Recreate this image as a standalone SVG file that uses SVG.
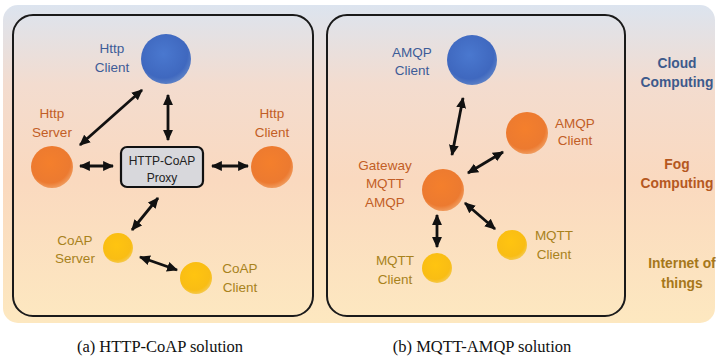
<svg xmlns="http://www.w3.org/2000/svg" width="717" height="359" viewBox="0 0 717 359">
<defs>
<linearGradient id="bg" x1="0" y1="0" x2="0" y2="1">
<stop offset="0" stop-color="#dce4ef"/>
<stop offset="0.25" stop-color="#f3dccf"/>
<stop offset="0.55" stop-color="#fad9bf"/>
<stop offset="1" stop-color="#fde8c0"/>
</linearGradient>
<radialGradient id="gBlue" cx="0.45" cy="0.4" r="0.6">
<stop offset="0" stop-color="#4a78cf"/>
<stop offset="0.8" stop-color="#3f68bf"/>
<stop offset="1" stop-color="#5a7fc6"/>
</radialGradient>
<radialGradient id="gOrange" cx="0.45" cy="0.4" r="0.6">
<stop offset="0" stop-color="#f47f2c"/>
<stop offset="0.8" stop-color="#ec7a30"/>
<stop offset="1" stop-color="#f09a5c"/>
</radialGradient>
<radialGradient id="gYellow" cx="0.45" cy="0.4" r="0.6">
<stop offset="0" stop-color="#ffc410"/>
<stop offset="0.8" stop-color="#f9bd14"/>
<stop offset="1" stop-color="#f5c84a"/>
</radialGradient>
<marker id="ah" viewBox="0 0 10 10" refX="9" refY="5" markerWidth="11" markerHeight="11" markerUnits="userSpaceOnUse" orient="auto-start-reverse">
<path d="M0,0.5 L10,5 L0,9.5 z" fill="#111"/>
</marker>
<style>
.panel{fill:none;stroke:#1a1a1a;stroke-width:2}
.lbl{font-family:"Liberation Sans","Open Sans",sans-serif;font-size:13.5px;text-anchor:middle}
.blue{fill:#3d5c98}
.orange{fill:#c25e26}
.yellow{fill:#a8821c}
.side{font-family:"Liberation Sans","Open Sans",sans-serif;font-size:13.8px;font-weight:bold;text-anchor:middle}
.cap{font-family:"Liberation Serif",serif;font-size:16.5px;text-anchor:middle;fill:#111}
.conn line{stroke:#111;stroke-width:2.8;marker-start:url(#ah);marker-end:url(#ah)}
</style>
</defs>
<rect x="3" y="5" width="712" height="318" rx="15" fill="url(#bg)"/>
<rect class="panel" x="13" y="15" width="300" height="301" rx="20"/>
<rect class="panel" x="327" y="15" width="298" height="301" rx="20"/>

<g id="conn" class="conn">
<line x1="142" y1="90" x2="80" y2="145"/>
<line x1="168" y1="95" x2="168" y2="140"/>
<line x1="80" y1="166" x2="113" y2="166"/>
<line x1="212" y1="166" x2="248" y2="166"/>
<line x1="158" y1="198" x2="132" y2="230"/>
<line x1="140" y1="257" x2="177" y2="270"/>
<line x1="463" y1="98" x2="452" y2="155"/>
<line x1="468" y1="173" x2="503" y2="152"/>
<line x1="465" y1="203" x2="495" y2="229"/>
<line x1="437" y1="215" x2="437" y2="247"/>
</g>

<g id="http-client-cloud">
<circle cx="166" cy="59" r="25" fill="url(#gBlue)"/>
<text class="lbl blue" x="112" y="52.5">Http</text>
<text class="lbl blue" x="112" y="71.5">Client</text>
</g>
<g id="http-server">
<circle cx="52" cy="167" r="21" fill="url(#gOrange)"/>
<text class="lbl orange" x="52" y="117.5">Http</text>
<text class="lbl orange" x="52" y="136.5">Server</text>
</g>
<g id="http-client-fog">
<circle cx="272" cy="167" r="21" fill="url(#gOrange)"/>
<text class="lbl orange" x="272" y="117.5">Http</text>
<text class="lbl orange" x="272" y="136.5">Client</text>
</g>
<g id="proxy">
<rect x="121" y="147" width="82" height="40" rx="6" fill="#d8d8dc" stroke="#111" stroke-width="2.2"/>
<text class="lbl" x="162" y="164.5" style="font-size:12px" fill="#222">HTTP-CoAP</text>
<text class="lbl" x="162" y="182" style="font-size:12px" fill="#222">Proxy</text>
</g>
<g id="coap-server">
<circle cx="118" cy="248" r="15" fill="url(#gYellow)"/>
<text class="lbl yellow" x="75" y="244.5">CoAP</text>
<text class="lbl yellow" x="75" y="262.5">Server</text>
</g>
<g id="coap-client">
<circle cx="196" cy="278" r="16" fill="url(#gYellow)"/>
<text class="lbl yellow" x="240" y="272.5">CoAP</text>
<text class="lbl yellow" x="240" y="291.5">Client</text>
</g>

<g id="amqp-client-cloud">
<circle cx="472" cy="60" r="25" fill="url(#gBlue)"/>
<text class="lbl blue" x="412" y="56.5">AMQP</text>
<text class="lbl blue" x="412" y="74.5">Client</text>
</g>
<g id="amqp-client-fog">
<circle cx="527" cy="133" r="21" fill="url(#gOrange)"/>
<text class="lbl orange" x="575" y="127.5">AMQP</text>
<text class="lbl orange" x="575" y="144.5">Client</text>
</g>
<g id="gateway">
<circle cx="443" cy="190" r="21" fill="url(#gOrange)"/>
<text class="lbl orange" x="385" y="169.5">Gateway</text>
<text class="lbl orange" x="385" y="187.5">MQTT</text>
<text class="lbl orange" x="385" y="206.5">AMQP</text>
</g>
<g id="mqtt-client-right">
<circle cx="512" cy="245" r="15" fill="url(#gYellow)"/>
<text class="lbl yellow" x="554" y="239.5">MQTT</text>
<text class="lbl yellow" x="554" y="258.5">Client</text>
</g>
<g id="mqtt-client-bottom">
<circle cx="437" cy="268" r="15" fill="url(#gYellow)"/>
<text class="lbl yellow" x="395" y="264.5">MQTT</text>
<text class="lbl yellow" x="395" y="283.5">Client</text>
</g>

<g id="layers">
<text class="side" x="677" y="67.5" fill="#3d5a8c">Cloud</text>
<text class="side" x="677" y="86.5" fill="#3d5a8c">Computing</text>
<text class="side" x="677" y="168.5" fill="#b5581f">Fog</text>
<text class="side" x="677" y="187.5" fill="#b5581f">Computing</text>
<text class="side" x="682" y="267.5" fill="#a6771a">Internet of</text>
<text class="side" x="682" y="287.5" fill="#a6771a">things</text>
</g>

<text class="cap" x="160" y="352">(a) HTTP-CoAP solution</text>
<text class="cap" x="482" y="352">(b) MQTT-AMQP solution</text>
</svg>
